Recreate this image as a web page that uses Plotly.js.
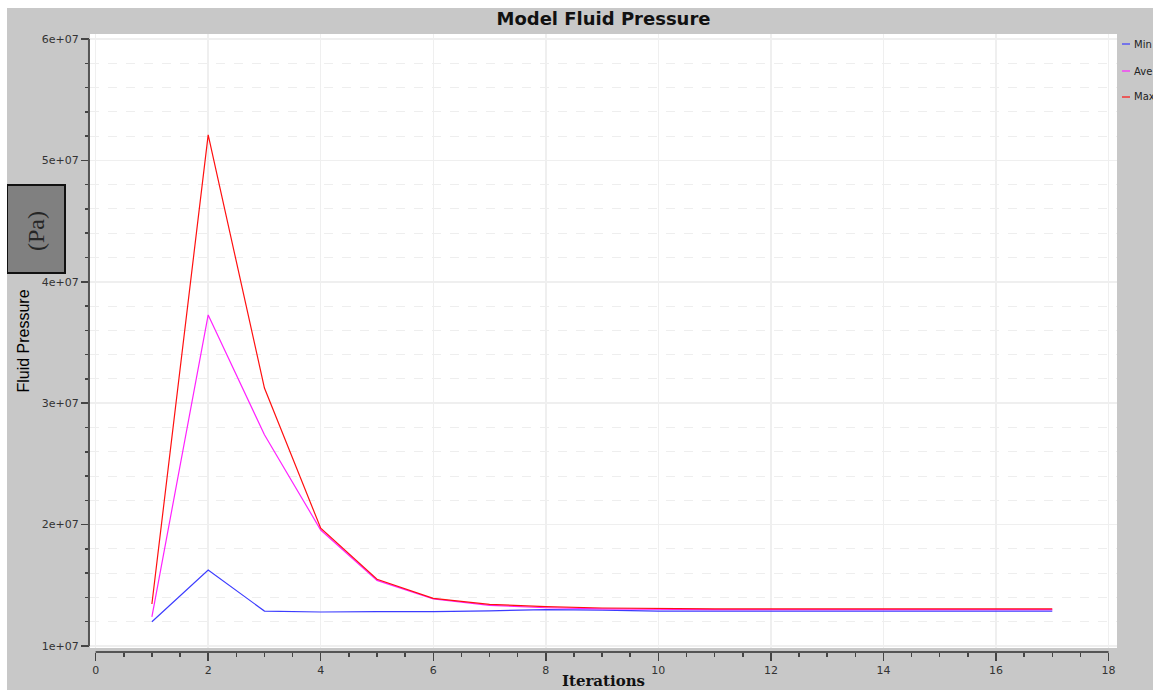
<!DOCTYPE html>
<html>
<head>
<meta charset="utf-8">
<script src="https://cdn.plot.ly/plotly-3.0.1.min.js"></script>
<style>
html,body{margin:0;padding:0;background:#ffffff;width:1153px;height:690px;overflow:hidden;}
#chart{position:absolute;left:7px;top:8px;width:1146px;height:682px;}
</style>
</head>
<body>
<div id="chart"></div>
<script>
// ---- data ----
const iterations = [1,2,3,4,5,6,7,8,9,10,11,12,13,14,15,16,17];
const minPressure = [1.20e7,1.626e7,1.288e7,1.280e7,1.283e7,1.283e7,1.290e7,1.300e7,1.295e7,1.287e7,1.287e7,1.287e7,1.287e7,1.287e7,1.287e7,1.287e7,1.287e7];
const avePressure = [1.24e7,3.727e7,2.74e7,1.955e7,1.54e7,1.388e7,1.335e7,1.315e7,1.305e7,1.300e7,1.300e7,1.300e7,1.300e7,1.300e7,1.300e7,1.300e7,1.300e7];
const maxPressure = [1.346e7,5.21e7,3.125e7,1.97e7,1.55e7,1.392e7,1.343e7,1.324e7,1.313e7,1.308e7,1.306e7,1.306e7,1.305e7,1.305e7,1.305e7,1.305e7,1.305e7];
const seriesNames = ['Min','Ave','Max'];
const seriesColors = ['#3c3cff','#ff22ff','#ff1010'];
const yTickVals = [1e7,2e7,3e7,4e7,5e7,6e7];
const yTickText = ['1e+07','2e+07','3e+07','4e+07','5e+07','6e+07'];
const xTickVals = [0,2,4,6,8,10,12,14,16,18];

// ---- geometry ----
const W = 1146, H = 682;
const M = {l:83, r:36, t:26, b:38};
const plotW = W - M.l - M.r, plotH = H - M.t - M.b;
const offX = 7, offY = 8;
function pxX(px){ return (px - offX - M.l) / plotW; }
function pxY(py){ return 1 - (py - offY - M.t) / plotH; }

const allY = [minPressure, avePressure, maxPressure];
const traces = allY.map((ys,i)=>({
  x: iterations, y: ys, type:'scatter', mode:'lines', name: seriesNames[i],
  line:{color:seriesColors[i], width:1.2}, showlegend:false
}));

const tickFont = {family:'DejaVu Sans, Verdana, sans-serif', size:11, color:'#333333'};

const shapes = [
  {type:'line', xref:'paper', yref:'y', x0:-0.001, x1:-0.001, y0:1e7, y1:6e7, line:{color:'#555555', width:2}},
  {type:'line', xref:'x', yref:'paper', x0:0, x1:18, y0:0, y1:0, line:{color:'#555555', width:2}},
  {type:'rect', xref:'paper', yref:'paper', x0:pxX(7), x1:pxX(65), y0:pxY(273), y1:pxY(185),
   fillcolor:'#808080', line:{color:'#111111', width:2}}
];
const annotations = [
  {xref:'paper', yref:'paper', x:pxX(36), y:pxY(231), text:'(Pa)', showarrow:false, textangle:-90,
   font:{family:'Liberation Serif, DejaVu Serif, serif', size:24, color:'#262626'}, xanchor:'center', yanchor:'middle'}
];
const legendY = [44,71,97];
seriesNames.forEach((n,i)=>{
  shapes.push({type:'line', xref:'paper', yref:'paper', x0:pxX(1122), x1:pxX(1130), y0:pxY(legendY[i]), y1:pxY(legendY[i]),
    line:{color:seriesColors[i], width:1.2}});
  annotations.push({xref:'paper', yref:'paper', x:pxX(1132), y:pxY(legendY[i]), text:n, showarrow:false,
    xanchor:'left', yanchor:'middle', font:{family:'DejaVu Sans, Verdana, sans-serif', size:10, color:'#222222'}});
});

const layout = {
  width:W, height:H,
  margin:M,
  paper_bgcolor:'#c8c8c8',
  plot_bgcolor:'#ffffff',
  showlegend:false,
  title:{text:'Model Fluid Pressure', x:0.5, xref:'paper', xanchor:'center', y:1-11/H, yref:'container', yanchor:'middle',
    font:{family:'DejaVu Sans, Verdana, sans-serif', size:18, color:'#111111', weight:'bold'}},
  xaxis:{
    range:[-0.1, 18.15], anchor:'free', position:0,
    tickmode:'array', tickvals:xTickVals,
    ticks:'outside', ticklen:8, tickwidth:1.5, tickcolor:'#444444',
    tickfont:tickFont, showline:false, zeroline:false,
    showgrid:true, gridcolor:'#efefef', gridwidth:1.5,
    minor:{dtick:0.5, tick0:0, ticks:'outside', ticklen:4, tickwidth:1.5, tickcolor:'#444444', showgrid:false},
    title:{text:'Iterations', standoff:5, font:{family:'DejaVu Serif, Liberation Serif, serif', size:15, color:'#111111', weight:'bold'}},
    automargin:false
  },
  yaxis:{
    range:[0.9835e7, 6.041e7], domain:[(652-648)/plotH, 1],
    tickmode:'array', tickvals:yTickVals, ticktext:yTickText,
    ticks:'outside', ticklen:8, tickwidth:1.5, tickcolor:'#444444',
    tickfont:tickFont, showline:false, zeroline:false,
    showgrid:true, gridcolor:'#efefef', gridwidth:1.5,
    minor:{dtick:2e6, tick0:0, ticks:'outside', ticklen:4, tickwidth:1.5, tickcolor:'#444444',
      showgrid:true, gridcolor:'#eeeeee', griddash:'dash', gridwidth:1},
    title:{text:'Fluid Pressure', standoff:8, font:{family:'Liberation Sans, Arial, sans-serif', size:16, color:'#000000'}},
    automargin:false
  },
  shapes:shapes,
  annotations:annotations
};

Plotly.newPlot('chart', traces, layout, {displayModeBar:false, staticPlot:true});
</script>
</body>
</html>
